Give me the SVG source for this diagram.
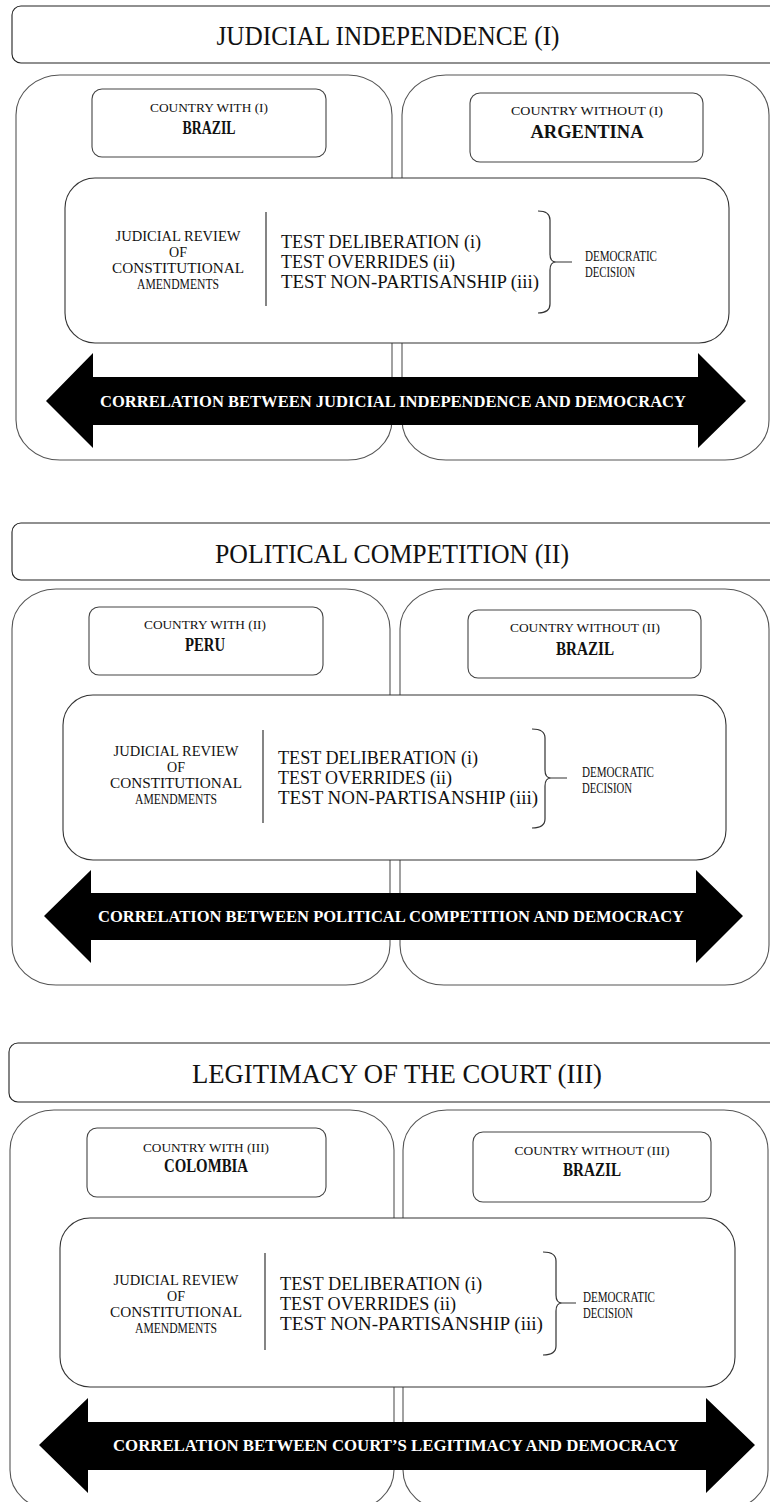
<svg xmlns="http://www.w3.org/2000/svg" width="770" height="1502" viewBox="0 0 770 1502">
<style>
text{font-family:"Liberation Serif","DejaVu Serif",serif;fill:#111}
.title{font-size:27px}
.panel{fill:#fff;stroke:#555;stroke-width:1.1}
.tbox{fill:#fff;stroke:#222;stroke-width:1.1}
.cbox{fill:#fff;stroke:#444;stroke-width:1.1}
.inner{fill:#fff;stroke:#333;stroke-width:1.1}
.small{font-size:12.5px}
.country{font-size:18px;font-weight:bold}
.jr{font-size:14px}
.test{font-size:19.5px}
.dem{font-size:14px}
.arrow{fill:#000}
.atext{font-size:17px;font-weight:bold;fill:#fff}
.line{stroke:#333;stroke-width:1.2;fill:none}
</style>
<rect width="770" height="1502" fill="#fff"/>

<!-- SECTION 1 -->
<g id="title1"><rect class="tbox" x="12" y="6" width="780" height="57" rx="9"/>
<text class="title" x="388" y="45" text-anchor="middle" textLength="343" lengthAdjust="spacingAndGlyphs">JUDICIAL INDEPENDENCE (I)</text></g>
<g id="panel1L"><rect class="panel" x="16" y="75" width="376" height="385" rx="44" ry="40"/></g>
<g id="panel1R"><rect class="panel" x="402" y="75" width="367" height="385" rx="44" ry="40"/></g>
<g id="country1L"><rect class="cbox" x="92" y="89" width="234" height="68" rx="10"/>
<text class="small" x="209" y="112" text-anchor="middle" textLength="118" lengthAdjust="spacingAndGlyphs">COUNTRY WITH (I)</text>
<text class="country" x="209" y="134" text-anchor="middle" textLength="53" lengthAdjust="spacingAndGlyphs">BRAZIL</text></g>
<g id="country1R"><rect class="cbox" x="470" y="93" width="233" height="69" rx="10"/>
<text class="small" x="587" y="115" text-anchor="middle" textLength="152" lengthAdjust="spacingAndGlyphs">COUNTRY WITHOUT (I)</text>
<text class="country" x="587" y="138" text-anchor="middle" textLength="113" lengthAdjust="spacingAndGlyphs">ARGENTINA</text></g>
<g id="inner1"><rect class="inner" x="65" y="178" width="664" height="165" rx="30"/>
<text class="jr" text-anchor="middle"><tspan x="178" y="241" textLength="125" lengthAdjust="spacingAndGlyphs">JUDICIAL REVIEW</tspan><tspan x="178" y="257">OF</tspan><tspan x="178" y="273" textLength="132" lengthAdjust="spacingAndGlyphs">CONSTITUTIONAL</tspan><tspan x="178" y="289" textLength="82" lengthAdjust="spacingAndGlyphs">AMENDMENTS</tspan></text>
<text class="test"><tspan x="281" y="248" textLength="200" lengthAdjust="spacingAndGlyphs">TEST DELIBERATION (i)</tspan><tspan x="281" y="268" textLength="174" lengthAdjust="spacingAndGlyphs">TEST OVERRIDES (ii)</tspan><tspan x="281" y="288" textLength="258" lengthAdjust="spacingAndGlyphs">TEST NON-PARTISANSHIP (iii)</tspan></text>
<text class="dem"><tspan x="585" y="261" textLength="72" lengthAdjust="spacingAndGlyphs">DEMOCRATIC</tspan><tspan x="585" y="277" textLength="50" lengthAdjust="spacingAndGlyphs">DECISION</tspan></text></g>
<g id="arrow1"><path class="arrow" d="M46,401 L93,353 L93,377 L698,377 L698,353 L746,401 L698,448 L698,425 L93,425 L93,448 Z"/>
<text class="atext" x="393" y="407" text-anchor="middle" textLength="586" lengthAdjust="spacingAndGlyphs">CORRELATION BETWEEN JUDICIAL INDEPENDENCE AND DEMOCRACY</text></g>

<!-- SECTION 2 -->
<g id="title2"><rect class="tbox" x="12" y="523" width="780" height="57" rx="9"/>
<text class="title" x="392" y="563" text-anchor="middle" textLength="354" lengthAdjust="spacingAndGlyphs">POLITICAL COMPETITION (II)</text></g>
<g id="panel2L"><rect class="panel" x="12" y="589" width="378" height="396" rx="44" ry="40"/></g>
<g id="panel2R"><rect class="panel" x="400" y="589" width="369" height="396" rx="44" ry="40"/></g>
<g id="country2L"><rect class="cbox" x="89" y="607" width="234" height="68" rx="10"/>
<text class="small" x="205" y="629" text-anchor="middle" textLength="122" lengthAdjust="spacingAndGlyphs">COUNTRY WITH (II)</text>
<text class="country" x="205" y="651" text-anchor="middle" textLength="40" lengthAdjust="spacingAndGlyphs">PERU</text></g>
<g id="country2R"><rect class="cbox" x="468" y="610" width="233" height="68" rx="10"/>
<text class="small" x="585" y="632" text-anchor="middle" textLength="150" lengthAdjust="spacingAndGlyphs">COUNTRY WITHOUT (II)</text>
<text class="country" x="585" y="655" text-anchor="middle" textLength="58" lengthAdjust="spacingAndGlyphs">BRAZIL</text></g>
<g id="inner2"><rect class="inner" x="63" y="695" width="663" height="165" rx="30"/>
<text class="jr" text-anchor="middle"><tspan x="176" y="756" textLength="125" lengthAdjust="spacingAndGlyphs">JUDICIAL REVIEW</tspan><tspan x="176" y="772">OF</tspan><tspan x="176" y="788" textLength="132" lengthAdjust="spacingAndGlyphs">CONSTITUTIONAL</tspan><tspan x="176" y="804" textLength="82" lengthAdjust="spacingAndGlyphs">AMENDMENTS</tspan></text>
<text class="test"><tspan x="278" y="764" textLength="200" lengthAdjust="spacingAndGlyphs">TEST DELIBERATION (i)</tspan><tspan x="278" y="784" textLength="174" lengthAdjust="spacingAndGlyphs">TEST OVERRIDES (ii)</tspan><tspan x="278" y="804" textLength="260" lengthAdjust="spacingAndGlyphs">TEST NON-PARTISANSHIP (iii)</tspan></text>
<text class="dem"><tspan x="582" y="777" textLength="72" lengthAdjust="spacingAndGlyphs">DEMOCRATIC</tspan><tspan x="582" y="793" textLength="50" lengthAdjust="spacingAndGlyphs">DECISION</tspan></text></g>
<g id="arrow2"><path class="arrow" d="M44,916 L91,870 L91,893 L696,893 L696,870 L743,916 L696,963 L696,940 L91,940 L91,963 Z"/>
<text class="atext" x="391" y="922" text-anchor="middle" textLength="586" lengthAdjust="spacingAndGlyphs">CORRELATION BETWEEN POLITICAL COMPETITION AND DEMOCRACY</text></g>

<!-- SECTION 3 -->
<g id="title3"><rect class="tbox" x="9" y="1043" width="780" height="59" rx="9"/>
<text class="title" x="397" y="1083" text-anchor="middle" textLength="410" lengthAdjust="spacingAndGlyphs">LEGITIMACY OF THE COURT (III)</text></g>
<g id="panel3L"><rect class="panel" x="10" y="1110" width="384" height="400" rx="44" ry="40"/></g>
<g id="panel3R"><rect class="panel" x="403" y="1110" width="365" height="400" rx="44" ry="40"/></g>
<g id="country3L"><rect class="cbox" x="87" y="1128" width="239" height="69" rx="10"/>
<text class="small" x="206" y="1152" text-anchor="middle" textLength="126" lengthAdjust="spacingAndGlyphs">COUNTRY WITH (III)</text>
<text class="country" x="206" y="1172" text-anchor="middle" textLength="84" lengthAdjust="spacingAndGlyphs">COLOMBIA</text></g>
<g id="country3R"><rect class="cbox" x="473" y="1132" width="238" height="70" rx="10"/>
<text class="small" x="592" y="1155" text-anchor="middle" textLength="155" lengthAdjust="spacingAndGlyphs">COUNTRY WITHOUT (III)</text>
<text class="country" x="592" y="1176" text-anchor="middle" textLength="58" lengthAdjust="spacingAndGlyphs">BRAZIL</text></g>
<g id="inner3"><rect class="inner" x="60" y="1218" width="675" height="169" rx="30"/>
<text class="jr" text-anchor="middle"><tspan x="176" y="1285" textLength="125" lengthAdjust="spacingAndGlyphs">JUDICIAL REVIEW</tspan><tspan x="176" y="1301">OF</tspan><tspan x="176" y="1317" textLength="132" lengthAdjust="spacingAndGlyphs">CONSTITUTIONAL</tspan><tspan x="176" y="1333" textLength="82" lengthAdjust="spacingAndGlyphs">AMENDMENTS</tspan></text>
<text class="test"><tspan x="280" y="1290" textLength="202" lengthAdjust="spacingAndGlyphs">TEST DELIBERATION (i)</tspan><tspan x="280" y="1310" textLength="176" lengthAdjust="spacingAndGlyphs">TEST OVERRIDES (ii)</tspan><tspan x="280" y="1330" textLength="263" lengthAdjust="spacingAndGlyphs">TEST NON-PARTISANSHIP (iii)</tspan></text>
<text class="dem"><tspan x="583" y="1302" textLength="72" lengthAdjust="spacingAndGlyphs">DEMOCRATIC</tspan><tspan x="583" y="1318" textLength="50" lengthAdjust="spacingAndGlyphs">DECISION</tspan></text></g>
<g id="arrow3"><path class="arrow" d="M39,1445 L88,1398 L88,1422 L706,1422 L706,1398 L755,1445 L706,1493 L706,1470 L88,1470 L88,1493 Z"/>
<text class="atext" x="396" y="1451" text-anchor="middle" textLength="566" lengthAdjust="spacingAndGlyphs">CORRELATION BETWEEN COURT’S LEGITIMACY AND DEMOCRACY</text></g>

<!-- connectors: dividers and braces -->
<g id="connectors">
<line class="line" x1="266" y1="212" x2="266" y2="306"/>
<path class="line" d="M538,211 Q550,211 550,220 L550,254 Q550,262 556,262 Q550,262 550,270 L550,304 Q550,313 538,313 M556,262 L572,262"/>
<line class="line" x1="263" y1="730" x2="263" y2="823"/>
<path class="line" d="M532,729 Q545,729 545,738 L545,770 Q545,778 551,778 Q545,778 545,786 L545,819 Q545,828 532,828 M551,778 L567,778"/>
<line class="line" x1="265" y1="1253" x2="265" y2="1350"/>
<path class="line" d="M543,1252 Q556,1252 556,1261 L556,1295 Q556,1303 562,1303 Q556,1303 556,1311 L556,1346 Q556,1355 543,1355 M562,1303 L576,1303"/>
</g>
</svg>
